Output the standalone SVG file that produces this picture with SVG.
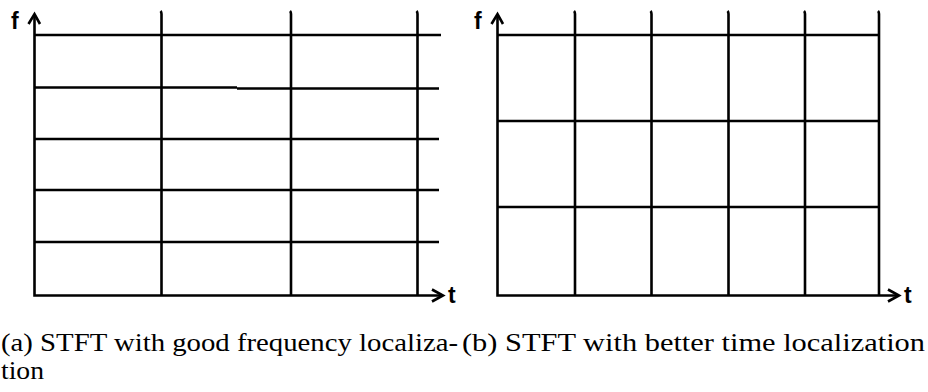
<svg xmlns="http://www.w3.org/2000/svg" width="928" height="392" viewBox="0 0 928 392">
  <style>
    .grid { stroke: #000; stroke-width: 2.6; fill: none; stroke-linecap: butt; }
    .axis { stroke: #000; stroke-width: 2.6; fill: none; }
    .head { stroke: #000; stroke-width: 2.6; fill: none; stroke-linejoin: miter; }
    .lbl { font-family: "Liberation Sans", Arial, sans-serif; font-size: 23px; font-weight: bold; fill: #000; }
    .cap { font-family: "Liberation Serif", "Times New Roman", serif; font-size: 25px; fill: #000; }
  </style>
  <rect width="928" height="392" fill="#fff"/>

  <!-- (a) narrow frequency bands, wide time slots -->
  <g id="panel-a">
    <g id="a-axes">
      <path class="axis" d="M34.5 14 V295.5 H442"/>
      <path class="head" d="M28.5 24 L34.5 14 L40 24"/>
      <path class="head" d="M432 289.5 L443 295.5 L432 301.5"/>
      <text class="lbl" x="11" y="29">f</text>
      <text class="lbl" x="448" y="303">t</text>
    </g>
    <g id="a-grid">
      <path class="grid" d="M34.5 35 H441"/>
      <path class="grid" d="M34.5 87.5 H237 M237 88.5 H439"/>
      <path class="grid" d="M34.5 139 H439"/>
      <path class="grid" d="M34.5 190 H439"/>
      <path class="grid" d="M34.5 242 H439"/>
      <path class="grid" d="M160.5 11 Q161.5 12 161.5 14 V295"/>
      <path class="grid" d="M290 11 Q291 12 291 14 V295"/>
      <path class="grid" d="M416.5 11 Q417.5 12 417.5 14 V295"/>
    </g>
  </g>

  <!-- (b) wide frequency bands, narrow time slots -->
  <g id="panel-b">
    <g id="b-axes">
      <path class="axis" d="M497.5 14 V295.5 H898"/>
      <path class="head" d="M491.5 24 L497.5 14 L503 24"/>
      <path class="head" d="M888 289.5 L899 295.5 L888 301.5"/>
      <text class="lbl" x="474" y="29">f</text>
      <text class="lbl" x="904" y="303">t</text>
    </g>
    <g id="b-grid">
      <path class="grid" d="M497.5 35 H880"/>
      <path class="grid" d="M497.5 121 H880"/>
      <path class="grid" d="M497.5 207 H880"/>
      <path class="grid" d="M574 11 Q575 12 575 14 V295"/>
      <path class="grid" d="M650.5 11 Q651.5 12 651.5 14 V295"/>
      <path class="grid" d="M727.5 11 Q728.5 12 728.5 14 V295"/>
      <path class="grid" d="M804 11 Q805 12 805 14 V295"/>
      <path class="grid" d="M878 11 Q879 12 879 14 V295"/>
    </g>
  </g>

  <!-- captions -->
  <g id="captions">
    <text class="cap" x="1" y="351" textLength="457" lengthAdjust="spacingAndGlyphs">(a) STFT with good frequency localiza-</text>
    <text class="cap" x="1" y="379" textLength="43" lengthAdjust="spacingAndGlyphs">tion</text>
    <text class="cap" x="462" y="351" textLength="463" lengthAdjust="spacingAndGlyphs">(b) STFT with better time localization</text>
  </g>
</svg>
